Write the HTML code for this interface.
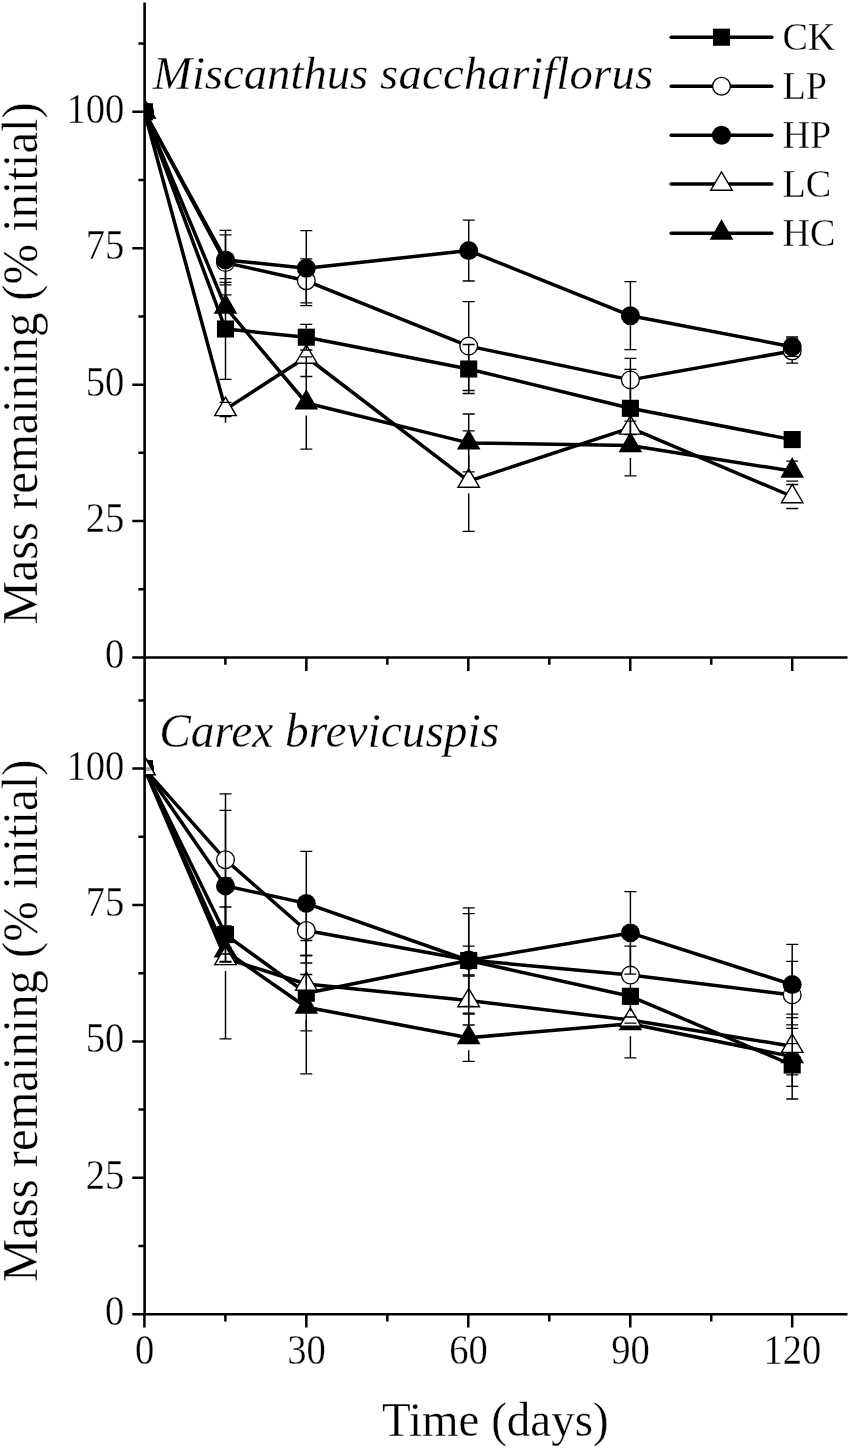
<!DOCTYPE html>
<html><head><meta charset="utf-8"><title>Mass remaining</title>
<style>
html,body{margin:0;padding:0;background:#fff;}
body{width:850px;height:1449px;overflow:hidden;font-family:"Liberation Serif",serif;}
svg text{font-family:"Liberation Serif",serif;}
</style></head><body>
<svg width="850" height="1449" viewBox="0 0 850 1449" style="display:block;will-change:transform">
<rect width="850" height="1449" fill="#fff"/>
<defs><clipPath id="c1"><rect x="144.6" y="0" width="720" height="660"/></clipPath><clipPath id="c2"><rect x="144.6" y="657" width="720" height="700"/></clipPath></defs>
<g clip-path="url(#c1)">
<polyline points="144.40,111.80 225.50,329.00 306.30,337.20 468.70,369.00 630.40,408.30 792.20,439.60" fill="none" stroke="#000" stroke-width="3.5" stroke-linejoin="round"/>
<rect x="135.85" y="103.25" width="17.10" height="17.10" fill="#000"/>
<rect x="216.95" y="320.45" width="17.10" height="17.10" fill="#000"/>
<rect x="297.75" y="328.65" width="17.10" height="17.10" fill="#000"/>
<rect x="460.15" y="360.45" width="17.10" height="17.10" fill="#000"/>
<rect x="621.85" y="399.75" width="17.10" height="17.10" fill="#000"/>
<rect x="783.65" y="431.05" width="17.10" height="17.10" fill="#000"/>
<polyline points="144.40,111.80 225.50,262.60 306.30,280.80 468.70,346.10 630.40,379.90 792.20,351.00" fill="none" stroke="#000" stroke-width="3.5" stroke-linejoin="round"/>
<circle cx="144.40" cy="111.80" r="8.85" fill="#fff" stroke="#000" stroke-width="1.3"/>
<circle cx="225.50" cy="262.60" r="8.85" fill="#fff" stroke="#000" stroke-width="1.3"/>
<circle cx="306.30" cy="280.80" r="8.85" fill="#fff" stroke="#000" stroke-width="1.3"/>
<circle cx="468.70" cy="346.10" r="8.85" fill="#fff" stroke="#000" stroke-width="1.3"/>
<circle cx="630.40" cy="379.90" r="8.85" fill="#fff" stroke="#000" stroke-width="1.3"/>
<circle cx="792.20" cy="351.00" r="8.85" fill="#fff" stroke="#000" stroke-width="1.3"/>
<polyline points="144.40,111.80 225.50,259.90 306.30,268.20 468.70,250.60 630.40,315.70 792.20,346.70" fill="none" stroke="#000" stroke-width="3.5" stroke-linejoin="round"/>
<circle cx="144.40" cy="111.80" r="9.50" fill="#000"/>
<circle cx="225.50" cy="259.90" r="9.50" fill="#000"/>
<circle cx="306.30" cy="268.20" r="9.50" fill="#000"/>
<circle cx="468.70" cy="250.60" r="9.50" fill="#000"/>
<circle cx="630.40" cy="315.70" r="9.50" fill="#000"/>
<circle cx="792.20" cy="346.70" r="9.50" fill="#000"/>
<polyline points="144.40,111.80 225.50,409.40 306.30,357.00 468.70,481.10 630.40,427.90 792.20,496.50" fill="none" stroke="#000" stroke-width="3.5" stroke-linejoin="round"/>
<polygon points="144.40,99.60 155.15,118.00 133.65,118.00" fill="#fff" stroke="#000" stroke-width="1.4" stroke-linejoin="miter"/>
<polygon points="225.50,397.20 236.25,415.60 214.75,415.60" fill="#fff" stroke="#000" stroke-width="1.4" stroke-linejoin="miter"/>
<polygon points="306.30,344.80 317.05,363.20 295.55,363.20" fill="#fff" stroke="#000" stroke-width="1.4" stroke-linejoin="miter"/>
<polygon points="468.70,468.90 479.45,487.30 457.95,487.30" fill="#fff" stroke="#000" stroke-width="1.4" stroke-linejoin="miter"/>
<polygon points="630.40,415.70 641.15,434.10 619.65,434.10" fill="#fff" stroke="#000" stroke-width="1.4" stroke-linejoin="miter"/>
<polygon points="792.20,484.30 802.95,502.70 781.45,502.70" fill="#fff" stroke="#000" stroke-width="1.4" stroke-linejoin="miter"/>
<polyline points="144.40,111.80 225.50,307.20 306.30,403.00 468.70,442.90 630.40,445.60 792.20,471.10" fill="none" stroke="#000" stroke-width="3.5" stroke-linejoin="round"/>
<polygon points="144.40,97.80 156.20,118.40 132.60,118.40" fill="#000"/>
<polygon points="225.50,293.20 237.30,313.80 213.70,313.80" fill="#000"/>
<polygon points="306.30,389.00 318.10,409.60 294.50,409.60" fill="#000"/>
<polygon points="468.70,428.90 480.50,449.50 456.90,449.50" fill="#000"/>
<polygon points="630.40,431.60 642.20,452.20 618.60,452.20" fill="#000"/>
<polygon points="792.20,457.10 804.00,477.70 780.40,477.70" fill="#000"/>
<path d="M225.50,278.60V320.45M225.50,337.55V379.40" stroke="#000" stroke-width="1.45" fill="none"/>
<path d="M219.50,278.60H231.50M219.50,379.40H231.50" stroke="#000" stroke-width="1.3" fill="none"/>
<path d="M306.30,324.40V328.65M306.30,345.75V350.00" stroke="#000" stroke-width="1.45" fill="none"/>
<path d="M300.30,324.40H312.30M300.30,350.00H312.30" stroke="#000" stroke-width="1.3" fill="none"/>
<path d="M468.70,344.50V360.45M468.70,377.55V393.50" stroke="#000" stroke-width="1.45" fill="none"/>
<path d="M462.70,344.50H474.70M462.70,393.50H474.70" stroke="#000" stroke-width="1.3" fill="none"/>
<path d="M630.40,369.30V399.75M630.40,416.85V447.30" stroke="#000" stroke-width="1.45" fill="none"/>
<path d="M624.40,369.30H636.40M624.40,447.30H636.40" stroke="#000" stroke-width="1.3" fill="none"/>
<path d="M786.20,436.60H798.20M786.20,442.60H798.20" stroke="#000" stroke-width="1.3" fill="none"/>
<path d="M225.50,230.30V253.10M225.50,272.10V294.90" stroke="#000" stroke-width="1.45" fill="none"/>
<path d="M219.50,230.30H231.50M219.50,294.90H231.50" stroke="#000" stroke-width="1.3" fill="none"/>
<path d="M306.30,258.80V271.30M306.30,290.30V302.80" stroke="#000" stroke-width="1.45" fill="none"/>
<path d="M300.30,258.80H312.30M300.30,302.80H312.30" stroke="#000" stroke-width="1.3" fill="none"/>
<path d="M468.70,301.70V336.60M468.70,355.60V390.50" stroke="#000" stroke-width="1.45" fill="none"/>
<path d="M462.70,301.70H474.70M462.70,390.50H474.70" stroke="#000" stroke-width="1.3" fill="none"/>
<path d="M630.40,358.30V370.40M630.40,389.40V401.50" stroke="#000" stroke-width="1.45" fill="none"/>
<path d="M624.40,358.30H636.40M624.40,401.50H636.40" stroke="#000" stroke-width="1.3" fill="none"/>
<path d="M792.20,338.90V341.50M792.20,360.50V363.10" stroke="#000" stroke-width="1.45" fill="none"/>
<path d="M786.20,338.90H798.20M786.20,363.10H798.20" stroke="#000" stroke-width="1.3" fill="none"/>
<path d="M225.50,234.90V250.40M225.50,269.40V284.90" stroke="#000" stroke-width="1.45" fill="none"/>
<path d="M219.50,234.90H231.50M219.50,284.90H231.50" stroke="#000" stroke-width="1.3" fill="none"/>
<path d="M306.30,230.70V258.70M306.30,277.70V305.70" stroke="#000" stroke-width="1.45" fill="none"/>
<path d="M300.30,230.70H312.30M300.30,305.70H312.30" stroke="#000" stroke-width="1.3" fill="none"/>
<path d="M468.70,220.20V241.10M468.70,260.10V281.00" stroke="#000" stroke-width="1.45" fill="none"/>
<path d="M462.70,220.20H474.70M462.70,281.00H474.70" stroke="#000" stroke-width="1.3" fill="none"/>
<path d="M630.40,281.70V306.20M630.40,325.20V349.70" stroke="#000" stroke-width="1.45" fill="none"/>
<path d="M624.40,281.70H636.40M624.40,349.70H636.40" stroke="#000" stroke-width="1.3" fill="none"/>
<path d="M792.20,337.00V337.20M792.20,356.20V356.40" stroke="#000" stroke-width="1.45" fill="none"/>
<path d="M786.20,337.00H798.20M786.20,356.40H798.20" stroke="#000" stroke-width="1.3" fill="none"/>
<path d="M219.50,402.30H231.50M219.50,416.50H231.50" stroke="#000" stroke-width="1.3" fill="none"/>
<path d="M306.30,337.50V344.50M306.30,369.50V376.50" stroke="#000" stroke-width="1.45" fill="none"/>
<path d="M300.30,337.50H312.30M300.30,376.50H312.30" stroke="#000" stroke-width="1.3" fill="none"/>
<path d="M468.70,430.80V468.60M468.70,493.60V531.40" stroke="#000" stroke-width="1.45" fill="none"/>
<path d="M462.70,430.80H474.70M462.70,531.40H474.70" stroke="#000" stroke-width="1.3" fill="none"/>
<path d="M624.40,421.20H636.40M624.40,434.60H636.40" stroke="#000" stroke-width="1.3" fill="none"/>
<path d="M786.20,484.50H798.20M786.20,508.50H798.20" stroke="#000" stroke-width="1.3" fill="none"/>
<path d="M225.50,282.30V294.70M225.50,319.70V332.10" stroke="#000" stroke-width="1.45" fill="none"/>
<path d="M219.50,282.30H231.50M219.50,332.10H231.50" stroke="#000" stroke-width="1.3" fill="none"/>
<path d="M306.30,356.90V390.50M306.30,415.50V449.10" stroke="#000" stroke-width="1.45" fill="none"/>
<path d="M300.30,356.90H312.30M300.30,449.10H312.30" stroke="#000" stroke-width="1.3" fill="none"/>
<path d="M468.70,414.00V430.40M468.70,455.40V471.80" stroke="#000" stroke-width="1.45" fill="none"/>
<path d="M462.70,414.00H474.70M462.70,471.80H474.70" stroke="#000" stroke-width="1.3" fill="none"/>
<path d="M630.40,415.40V433.10M630.40,458.10V475.80" stroke="#000" stroke-width="1.45" fill="none"/>
<path d="M624.40,415.40H636.40M624.40,475.80H636.40" stroke="#000" stroke-width="1.3" fill="none"/>
<path d="M786.20,461.10H798.20M786.20,481.10H798.20" stroke="#000" stroke-width="1.3" fill="none"/>
</g>
<g clip-path="url(#c2)">
<polyline points="144.40,768.60 225.50,934.60 306.30,993.20 468.70,960.50 630.40,996.30 792.20,1065.00" fill="none" stroke="#000" stroke-width="3.5" stroke-linejoin="round"/>
<rect x="135.85" y="760.05" width="17.10" height="17.10" fill="#000"/>
<rect x="216.95" y="926.05" width="17.10" height="17.10" fill="#000"/>
<rect x="297.75" y="984.65" width="17.10" height="17.10" fill="#000"/>
<rect x="460.15" y="951.95" width="17.10" height="17.10" fill="#000"/>
<rect x="621.85" y="987.75" width="17.10" height="17.10" fill="#000"/>
<rect x="783.65" y="1056.45" width="17.10" height="17.10" fill="#000"/>
<polyline points="144.40,768.60 225.50,859.80 306.30,930.50 468.70,960.00 630.40,975.10 792.20,994.90" fill="none" stroke="#000" stroke-width="3.5" stroke-linejoin="round"/>
<circle cx="144.40" cy="768.60" r="8.85" fill="#fff" stroke="#000" stroke-width="1.3"/>
<circle cx="225.50" cy="859.80" r="8.85" fill="#fff" stroke="#000" stroke-width="1.3"/>
<circle cx="306.30" cy="930.50" r="8.85" fill="#fff" stroke="#000" stroke-width="1.3"/>
<circle cx="468.70" cy="960.00" r="8.85" fill="#fff" stroke="#000" stroke-width="1.3"/>
<circle cx="630.40" cy="975.10" r="8.85" fill="#fff" stroke="#000" stroke-width="1.3"/>
<circle cx="792.20" cy="994.90" r="8.85" fill="#fff" stroke="#000" stroke-width="1.3"/>
<polyline points="144.40,768.60 225.50,885.90 306.30,903.40 468.70,960.50 630.40,932.90 792.20,984.60" fill="none" stroke="#000" stroke-width="3.5" stroke-linejoin="round"/>
<circle cx="144.40" cy="768.60" r="9.50" fill="#000"/>
<circle cx="225.50" cy="885.90" r="9.50" fill="#000"/>
<circle cx="306.30" cy="903.40" r="9.50" fill="#000"/>
<circle cx="468.70" cy="960.50" r="9.50" fill="#000"/>
<circle cx="630.40" cy="932.90" r="9.50" fill="#000"/>
<circle cx="792.20" cy="984.60" r="9.50" fill="#000"/>
<polyline points="144.40,768.60 225.50,951.00 306.30,1007.20 468.70,1037.70 630.40,1023.70 792.20,1056.60" fill="none" stroke="#000" stroke-width="3.5" stroke-linejoin="round"/>
<polygon points="144.40,754.60 156.20,775.20 132.60,775.20" fill="#000"/>
<polygon points="225.50,937.00 237.30,957.60 213.70,957.60" fill="#000"/>
<polygon points="306.30,993.20 318.10,1013.80 294.50,1013.80" fill="#000"/>
<polygon points="468.70,1023.70 480.50,1044.30 456.90,1044.30" fill="#000"/>
<polygon points="630.40,1009.70 642.20,1030.30 618.60,1030.30" fill="#000"/>
<polygon points="792.20,1042.60 804.00,1063.20 780.40,1063.20" fill="#000"/>
<polyline points="144.40,768.60 225.50,958.40 306.30,984.00 468.70,1000.50 630.40,1020.10 792.20,1046.20" fill="none" stroke="#000" stroke-width="3.5" stroke-linejoin="round"/>
<polygon points="144.40,756.40 155.15,774.80 133.65,774.80" fill="#fff" stroke="#000" stroke-width="1.4" stroke-linejoin="miter"/>
<polygon points="225.50,946.20 236.25,964.60 214.75,964.60" fill="#fff" stroke="#000" stroke-width="1.4" stroke-linejoin="miter"/>
<polygon points="306.30,971.80 317.05,990.20 295.55,990.20" fill="#fff" stroke="#000" stroke-width="1.4" stroke-linejoin="miter"/>
<polygon points="468.70,988.30 479.45,1006.70 457.95,1006.70" fill="#fff" stroke="#000" stroke-width="1.4" stroke-linejoin="miter"/>
<polygon points="630.40,1007.90 641.15,1026.30 619.65,1026.30" fill="#fff" stroke="#000" stroke-width="1.4" stroke-linejoin="miter"/>
<polygon points="792.20,1034.00 802.95,1052.40 781.45,1052.40" fill="#fff" stroke="#000" stroke-width="1.4" stroke-linejoin="miter"/>
<path d="M225.50,907.00V926.05M225.50,943.15V962.20" stroke="#000" stroke-width="1.45" fill="none"/>
<path d="M219.50,907.00H231.50M219.50,962.20H231.50" stroke="#000" stroke-width="1.3" fill="none"/>
<path d="M306.30,955.50V984.65M306.30,1001.75V1030.90" stroke="#000" stroke-width="1.45" fill="none"/>
<path d="M300.30,955.50H312.30M300.30,1030.90H312.30" stroke="#000" stroke-width="1.3" fill="none"/>
<path d="M468.70,946.10V951.95M468.70,969.05V974.90" stroke="#000" stroke-width="1.45" fill="none"/>
<path d="M462.70,946.10H474.70M462.70,974.90H474.70" stroke="#000" stroke-width="1.3" fill="none"/>
<path d="M624.40,993.30H636.40M624.40,999.30H636.40" stroke="#000" stroke-width="1.3" fill="none"/>
<path d="M792.20,1043.70V1056.45M792.20,1073.55V1086.30" stroke="#000" stroke-width="1.45" fill="none"/>
<path d="M786.20,1043.70H798.20M786.20,1086.30H798.20" stroke="#000" stroke-width="1.3" fill="none"/>
<path d="M225.50,793.80V850.30M225.50,869.30V925.80" stroke="#000" stroke-width="1.45" fill="none"/>
<path d="M219.50,793.80H231.50M219.50,925.80H231.50" stroke="#000" stroke-width="1.3" fill="none"/>
<path d="M306.30,898.00V921.00M306.30,940.00V963.00" stroke="#000" stroke-width="1.45" fill="none"/>
<path d="M300.30,898.00H312.30M300.30,963.00H312.30" stroke="#000" stroke-width="1.3" fill="none"/>
<path d="M468.70,913.70V950.50M468.70,969.50V1006.30" stroke="#000" stroke-width="1.45" fill="none"/>
<path d="M462.70,913.70H474.70M462.70,1006.30H474.70" stroke="#000" stroke-width="1.3" fill="none"/>
<path d="M630.40,946.20V965.60M630.40,984.60V1004.00" stroke="#000" stroke-width="1.45" fill="none"/>
<path d="M624.40,946.20H636.40M624.40,1004.00H636.40" stroke="#000" stroke-width="1.3" fill="none"/>
<path d="M792.20,961.40V985.40M792.20,1004.40V1028.40" stroke="#000" stroke-width="1.45" fill="none"/>
<path d="M786.20,961.40H798.20M786.20,1028.40H798.20" stroke="#000" stroke-width="1.3" fill="none"/>
<path d="M225.50,810.30V876.40M225.50,895.40V961.50" stroke="#000" stroke-width="1.45" fill="none"/>
<path d="M219.50,810.30H231.50M219.50,961.50H231.50" stroke="#000" stroke-width="1.3" fill="none"/>
<path d="M306.30,851.30V893.90M306.30,912.90V955.50" stroke="#000" stroke-width="1.45" fill="none"/>
<path d="M300.30,851.30H312.30M300.30,955.50H312.30" stroke="#000" stroke-width="1.3" fill="none"/>
<path d="M468.70,907.80V951.00M468.70,970.00V1013.20" stroke="#000" stroke-width="1.45" fill="none"/>
<path d="M462.70,907.80H474.70M462.70,1013.20H474.70" stroke="#000" stroke-width="1.3" fill="none"/>
<path d="M630.40,891.60V923.40M630.40,942.40V974.20" stroke="#000" stroke-width="1.45" fill="none"/>
<path d="M624.40,891.60H636.40M624.40,974.20H636.40" stroke="#000" stroke-width="1.3" fill="none"/>
<path d="M792.20,944.40V975.10M792.20,994.10V1024.80" stroke="#000" stroke-width="1.45" fill="none"/>
<path d="M786.20,944.40H798.20M786.20,1024.80H798.20" stroke="#000" stroke-width="1.3" fill="none"/>
<path d="M219.50,948.00H231.50M219.50,954.00H231.50" stroke="#000" stroke-width="1.3" fill="none"/>
<path d="M306.30,940.50V994.70M306.30,1019.70V1073.90" stroke="#000" stroke-width="1.45" fill="none"/>
<path d="M300.30,940.50H312.30M300.30,1073.90H312.30" stroke="#000" stroke-width="1.3" fill="none"/>
<path d="M468.70,1014.00V1025.20M468.70,1050.20V1061.40" stroke="#000" stroke-width="1.45" fill="none"/>
<path d="M462.70,1014.00H474.70M462.70,1061.40H474.70" stroke="#000" stroke-width="1.3" fill="none"/>
<path d="M630.40,989.60V1011.20M630.40,1036.20V1057.80" stroke="#000" stroke-width="1.45" fill="none"/>
<path d="M624.40,989.60H636.40M624.40,1057.80H636.40" stroke="#000" stroke-width="1.3" fill="none"/>
<path d="M792.20,1014.20V1044.10M792.20,1069.10V1099.00" stroke="#000" stroke-width="1.45" fill="none"/>
<path d="M786.20,1014.20H798.20M786.20,1099.00H798.20" stroke="#000" stroke-width="1.3" fill="none"/>
<path d="M225.50,877.90V945.90M225.50,970.90V1038.90" stroke="#000" stroke-width="1.45" fill="none"/>
<path d="M219.50,877.90H231.50M219.50,1038.90H231.50" stroke="#000" stroke-width="1.3" fill="none"/>
<path d="M300.30,974.50H312.30M300.30,993.50H312.30" stroke="#000" stroke-width="1.3" fill="none"/>
<path d="M468.70,976.00V988.00M468.70,1013.00V1025.00" stroke="#000" stroke-width="1.45" fill="none"/>
<path d="M462.70,976.00H474.70M462.70,1025.00H474.70" stroke="#000" stroke-width="1.3" fill="none"/>
<path d="M624.40,1017.00H636.40M624.40,1023.20H636.40" stroke="#000" stroke-width="1.3" fill="none"/>
<path d="M792.20,1017.60V1033.70M792.20,1058.70V1074.80" stroke="#000" stroke-width="1.45" fill="none"/>
<path d="M786.20,1017.60H798.20M786.20,1074.80H798.20" stroke="#000" stroke-width="1.3" fill="none"/>
</g>
<path d="M144.6,768.1H151M144.6,770H151" stroke="#444" stroke-width="0.9" fill="none"/>
<path d="M225.5,416.4V422.9" stroke="#000" stroke-width="1.45"/>
<g stroke="#000" stroke-width="2.6" fill="none" stroke-linecap="butt">
<path d="M144.6,2.5V1315.5"/>
<path d="M143.29999999999998,657.5H847.5"/>
<path d="M143.29999999999998,1314.2H847.5"/>
</g>
<path d="M132.29999999999998,657.50H144.6M138.4,589.29H144.6M132.29999999999998,521.08H144.6M138.4,452.86H144.6M132.29999999999998,384.65H144.6M138.4,316.44H144.6M132.29999999999998,248.22H144.6M138.4,180.01H144.6M132.29999999999998,111.80H144.6M138.4,43.59H144.6M132.29999999999998,1314.20H144.6M138.4,1246.00H144.6M132.29999999999998,1177.80H144.6M138.4,1109.60H144.6M132.29999999999998,1041.40H144.6M138.4,973.20H144.6M132.29999999999998,905.00H144.6M138.4,836.80H144.6M132.29999999999998,768.60H144.6M138.4,700.40H144.6M225.38,657.5V664.7M306.35,657.5V670.9M387.33,657.5V664.7M468.30,657.5V670.9M549.28,657.5V664.7M630.25,657.5V670.9M711.23,657.5V664.7M792.20,657.5V670.9M144.40,1314.2V1327.6000000000001M225.38,1314.2V1321.4M306.35,1314.2V1327.6000000000001M387.33,1314.2V1321.4M468.30,1314.2V1327.6000000000001M549.28,1314.2V1321.4M630.25,1314.2V1327.6000000000001M711.23,1314.2V1321.4M792.20,1314.2V1327.6000000000001" stroke="#000" stroke-width="2.5" fill="none"/>
<g font-family="Liberation Serif, serif" fill="#000">
<text transform="translate(124.30,668.40) scale(1,1.09)" font-size="38.6" text-anchor="end" stroke="#fff" stroke-width="0.3">0</text>
<text transform="translate(124.30,531.98) scale(1,1.09)" font-size="38.6" text-anchor="end" stroke="#fff" stroke-width="0.3">25</text>
<text transform="translate(124.30,395.55) scale(1,1.09)" font-size="38.6" text-anchor="end" stroke="#fff" stroke-width="0.3">50</text>
<text transform="translate(124.30,259.12) scale(1,1.09)" font-size="38.6" text-anchor="end" stroke="#fff" stroke-width="0.3">75</text>
<text transform="translate(124.30,122.70) scale(1,1.09)" font-size="38.6" text-anchor="end" stroke="#fff" stroke-width="0.3">100</text>
<text transform="translate(124.30,1325.10) scale(1,1.09)" font-size="38.6" text-anchor="end" stroke="#fff" stroke-width="0.3">0</text>
<text transform="translate(124.30,1188.70) scale(1,1.09)" font-size="38.6" text-anchor="end" stroke="#fff" stroke-width="0.3">25</text>
<text transform="translate(124.30,1052.30) scale(1,1.09)" font-size="38.6" text-anchor="end" stroke="#fff" stroke-width="0.3">50</text>
<text transform="translate(124.30,915.90) scale(1,1.09)" font-size="38.6" text-anchor="end" stroke="#fff" stroke-width="0.3">75</text>
<text transform="translate(124.30,779.50) scale(1,1.09)" font-size="38.6" text-anchor="end" stroke="#fff" stroke-width="0.3">100</text>
<text transform="translate(144.60,1363.90) scale(1,1.09)" font-size="38.6" text-anchor="middle" stroke="#fff" stroke-width="0.3">0</text>
<text transform="translate(306.55,1363.90) scale(1,1.09)" font-size="38.6" text-anchor="middle" stroke="#fff" stroke-width="0.3">30</text>
<text transform="translate(468.50,1363.90) scale(1,1.09)" font-size="38.6" text-anchor="middle" stroke="#fff" stroke-width="0.3">60</text>
<text transform="translate(630.45,1363.90) scale(1,1.09)" font-size="38.6" text-anchor="middle" stroke="#fff" stroke-width="0.3">90</text>
<text transform="translate(792.40,1363.90) scale(1,1.09)" font-size="38.6" text-anchor="middle" stroke="#fff" stroke-width="0.3">120</text>
<text transform="translate(495.30,1436.40) scale(1,1.04)" font-size="47" text-anchor="middle" stroke="#fff" stroke-width="0.3">Time (days)</text>
<text transform="translate(36.70,363.45) rotate(-90) scale(1,1.04)" font-size="48.6" text-anchor="middle" stroke="#fff" stroke-width="0.3">Mass remaining (% initial)</text>
<text transform="translate(36.70,1020.80) rotate(-90) scale(1,1.04)" font-size="48.6" text-anchor="middle" stroke="#fff" stroke-width="0.3">Mass remaining (% initial)</text>
<text x="153" y="89.2" font-size="46.7" font-style="italic" stroke="#fff" stroke-width="0.3">Miscanthus <tspan letter-spacing="0.27">sacchariflorus</tspan></text>
<text transform="translate(159.2,747.2) scale(1,1.02)" font-size="47.4" font-style="italic" stroke="#fff" stroke-width="0.3">Carex brevicuspis</text>
<path d="M671.2,37.2H771.8" stroke="#000" stroke-width="3.5" stroke-linecap="round"/>
<rect x="712.95" y="28.65" width="17.10" height="17.10" fill="#000"/>
<text transform="translate(782.40,50.30) scale(1,1.075)" font-size="38.2" text-anchor="start" stroke="#fff" stroke-width="0.3">CK</text>
<path d="M671.2,86.3H771.8" stroke="#000" stroke-width="3.5" stroke-linecap="round"/>
<circle cx="721.50" cy="86.30" r="8.85" fill="#fff" stroke="#000" stroke-width="1.3"/>
<text transform="translate(782.40,99.00) scale(1,1.075)" font-size="38.2" text-anchor="start" stroke="#fff" stroke-width="0.3">LP</text>
<path d="M671.2,135.3H771.8" stroke="#000" stroke-width="3.5" stroke-linecap="round"/>
<circle cx="721.50" cy="135.30" r="9.50" fill="#000"/>
<text transform="translate(782.40,148.00) scale(1,1.075)" font-size="38.2" text-anchor="start" stroke="#fff" stroke-width="0.3">HP</text>
<path d="M671.2,184.0H771.8" stroke="#000" stroke-width="3.5" stroke-linecap="round"/>
<polygon points="721.50,171.80 732.25,190.20 710.75,190.20" fill="#fff" stroke="#000" stroke-width="1.4" stroke-linejoin="miter"/>
<text transform="translate(782.40,196.70) scale(1,1.075)" font-size="38.2" text-anchor="start" stroke="#fff" stroke-width="0.3">LC</text>
<path d="M671.2,233.2H771.8" stroke="#000" stroke-width="3.5" stroke-linecap="round"/>
<polygon points="721.50,219.20 733.30,239.80 709.70,239.80" fill="#000"/>
<text transform="translate(782.40,246.10) scale(1,1.075)" font-size="38.2" text-anchor="start" stroke="#fff" stroke-width="0.3">HC</text>
</g>
</svg>
</body></html>
